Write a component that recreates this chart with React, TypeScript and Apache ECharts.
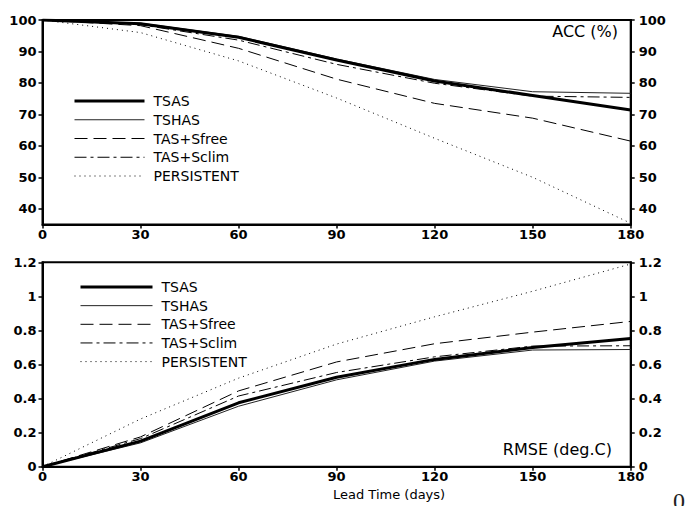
import React, { useEffect, useRef } from "react";
import * as echarts from "echarts";

const days = [0, 30, 60, 90, 120, 150, 180];
const seriesNames = ["TSAS", "TSHAS", "TAS+Sfree", "TAS+Sclim", "PERSISTENT"];

const accTSAS = [100, 98.8, 94.5, 87.3, 80.6, 76.0, 71.4];
const accTSHAS = [100, 99.0, 94.8, 87.6, 81.1, 77.2, 76.7];
const accSfree = [100, 98.2, 91.0, 81.2, 73.5, 68.8, 61.5];
const accSclim = [100, 98.5, 93.6, 85.9, 79.9, 75.8, 75.4];
const accPers = [100, 96.0, 87.0, 75.2, 62.4, 50.0, 35.4];

const rmseTSAS = [0, 0.15, 0.375, 0.525, 0.63, 0.7, 0.752];
const rmseTSHAS = [0, 0.14, 0.355, 0.51, 0.62, 0.685, 0.688];
const rmseSfree = [0, 0.175, 0.445, 0.615, 0.722, 0.79, 0.853];
const rmseSclim = [0, 0.165, 0.415, 0.553, 0.645, 0.708, 0.71];
const rmsePers = [0, 0.28, 0.52, 0.72, 0.88, 1.03, 1.19];

const accTicks = [40, 50, 60, 70, 80, 90, 100];

const FONT = "DejaVu Sans";

const lineStyles: any[] = [
  { color: "#000", width: 3, type: "solid" },
  { color: "#222", width: 1, type: "solid" },
  { color: "#000", width: 1, type: [13, 6] },
  { color: "#000", width: 1, type: [12, 4, 3, 4] },
  { color: "#000", width: 1, type: [1, 4] },
];

function pairs(vals: number[]) {
  return days.map((d, i) => [d, vals[i]]);
}

export default function App() {
  const ref = useRef<HTMLDivElement>(null);
  useEffect(() => {
    if (!ref.current) return;
    const chart = echarts.init(ref.current, null, { renderer: "svg" });
    const accSets = [accTSAS, accTSHAS, accSfree, accSclim, accPers];
    const rmseSets = [rmseTSAS, rmseTSHAS, rmseSfree, rmseSclim, rmsePers];

    const tickLabel = {
      fontFamily: FONT,
      fontWeight: "bold" as const,
      fontSize: 13,
      color: "#000",
    };
    const axisLine = { show: true, lineStyle: { color: "#000", width: 2 } };
    const axisTick = { show: true, inside: false, length: 4, lineStyle: { color: "#000", width: 1.5 } };

    const xAxisFor = (gi: number) => ({
      type: "value",
      gridIndex: gi,
      min: 0,
      max: 180,
      interval: 30,
      position: "bottom",
      axisLine,
      axisTick,
      splitLine: { show: false },
      axisLabel: { ...tickLabel, margin: 3 },
    });

    const accY = (pos: string) => ({
      type: "value",
      gridIndex: 0,
      min: 35,
      max: 100,
      position: pos,
      axisLine,
      axisTick: { ...axisTick, customValues: accTicks },
      splitLine: { show: false },
      axisLabel: { ...tickLabel, customValues: accTicks, margin: pos === "left" ? 6 : 8 },
    });
    const rmseY = (pos: string) => ({
      type: "value",
      gridIndex: 1,
      min: 0,
      max: 1.2,
      interval: 0.2,
      position: pos,
      axisLine,
      axisTick,
      splitLine: { show: false },
      axisLabel: {
        ...tickLabel,
        margin: pos === "left" ? 6 : 8,
        formatter: (v: number) => String(+v.toFixed(1)),
      },
    });

    const series: any[] = [];
    seriesNames.forEach((n, i) => {
      const common = {
        name: n,
        type: "line",
        symbol: "none",
        color: "#000",
        itemStyle: { color: "#000" },
        lineStyle: lineStyles[i],
        z: 10 - i,
      };
      series.push({ ...common, xAxisIndex: 0, yAxisIndex: 0, data: pairs(accSets[i]) });
      series.push({ ...common, xAxisIndex: 1, yAxisIndex: 2, data: pairs(rmseSets[i]) });
    });

    const legendText = {
      fontFamily: FONT,
      fontSize: 14,
      color: "#000",
      lineHeight: 14,
      padding: [0, 0, 0, 4],
    };
    const legendBase = {
      data: seriesNames.map((n, i) => ({ name: n, lineStyle: { width: lineStyles[i].width } })),
      orient: "vertical",
      itemHeight: 14,
      selectedMode: false,
      itemStyle: { opacity: 0 },
      textStyle: legendText,
    };

    chart.setOption({
      animation: false,
      backgroundColor: "#fff",
      grid: [
        { left: 42.5, right: 60.3, top: 20, height: 204.5, show: true, borderColor: "#000", borderWidth: 2 },
        { left: 42.5, right: 60.3, top: 262.3, height: 204.4, show: true, borderColor: "#000", borderWidth: 2 },
      ],
      xAxis: [xAxisFor(0), xAxisFor(1)],
      yAxis: [accY("left"), accY("right"), rmseY("left"), rmseY("right")],
      legend: [
        { ...legendBase, left: 68, top: 89, itemWidth: 70, itemGap: 4.75 },
        { ...legendBase, left: 74, top: 275, itemWidth: 72, itemGap: 4.65 },
      ],
      graphic: [
        {
          type: "text",
          right: 73,
          top: 23,
          style: { text: "ACC (%)", font: `16px "${FONT}"`, fill: "#000" },
        },
        {
          type: "text",
          right: 79,
          top: 441,
          style: { text: "RMSE (deg.C)", font: `16px "${FONT}"`, fill: "#000" },
        },
        {
          type: "text",
          left: 333,
          top: 488,
          style: { text: "Lead Time (days)", font: `13px "${FONT}"`, fill: "#000", align: "center" },
        },
        {
          type: "text",
          left: 673,
          top: 489,
          style: { text: "0", font: `24px "Liberation Serif"`, fill: "#222" },
        },
      ],
      series,
    });
    return () => chart.dispose();
  }, []);
  return (
    <div
      ref={ref}
      style={{ position: "fixed", left: 0, top: 0, width: 691, height: 506 }}
    />
  );
}
